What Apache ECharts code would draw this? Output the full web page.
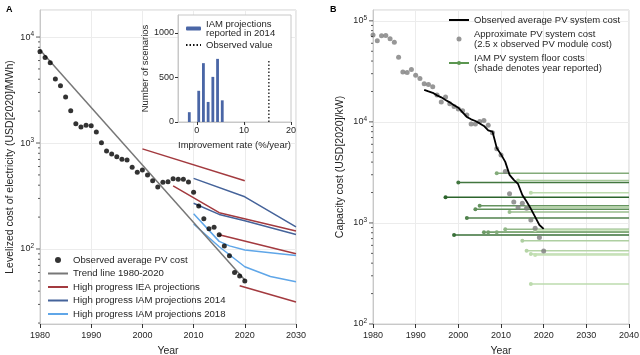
<!DOCTYPE html>
<html><head><meta charset="utf-8">
<script src="https://cdn.jsdelivr.net/npm/echarts@6/dist/echarts.min.js"></script>
<style>html,body{margin:0;padding:0;background:#fff}#c{width:640px;height:355px}</style>
</head><body><div id="c"></div>
<script>
// ---------- Panel A data ----------
const obsYearsA = [1980,1981,1982,1983,1984,1985,1986,1987,1988,1989,1990,1991,1992,1993,1994,1995,1996,1997,1998,1999,2000,2001,2002,2003,2004,2005,2006,2007,2008,2009,2010,2011,2012,2013,2014,2015,2016,2017,2018,2019,2020];
const obsLcoe = [7300,6430,5730,4020,3480,2720,2020,1520,1416,1468,1456,1270,1006,841,788,743,702,692,590,530,556,499,441,385,426,432,461,455,455,428,343,255,193,155,160,136,107,86.5,60,55.6,49.9];
const trendYears = [1980,2020];
const trendValues = [7540,51];
const ieaProj = [
  {years:[2000,2020], values:[880,440]},
  {years:[2006,2015,2030], values:[395,220,148]},
  {years:[2015,2030], values:[136,90]},
  {years:[2019,2030], values:[45,31.6]}
];
const iam2014Proj = [
  {years:[2010,2020,2030], values:[464,311,162]},
  {years:[2010,2015,2020,2030], values:[270,212,185,137]}
];
const iam2018Proj = [
  {years:[2010,2015,2017,2020,2030], values:[215,118,107,98,87]},
  {years:[2010,2015,2020,2025,2030], values:[172,105,68,55,49]}
];
// inset histogram
const histCenters = [-1.6,0.4,1.4,2.4,3.4,4.4,5.4];
const histCounts = [110,350,660,225,506,708,243];
const histTicksX = [0,10,20];
const histTicksY = [0,500,1000];
const observedRate = 15.3;
const observedLineTop = 700;

// ---------- Panel B data ----------
const approxYears = [1980,1981,1982,1983,1984,1985,1986,1987,1988,1989,1990,1991,1992,1993,1994,1995,1996,1997,1998,1999,2000,2001,2002,2003,2004,2005,2006,2007,2008,2009,2010,2011,2012,2013,2014,2015,2016,2017,2018,2019,2020];
const approxCost = [72600,63400,71000,71600,66400,61500,43600,31200,30800,33000,29000,26800,23900,23400,22300,18500,15700,17600,15100,14200,13400,12900,11700,9550,9550,10100,10300,9270,7800,5410,4700,3220,1940,1610,1420,1570,1400,1070,885,716,528];
const sysYears = [1992,1993,1994,1995,1996,1997,1998,1999,2000,2001,2002,2003,2004,2005,2006,2007,2008,2009,2010,2011,2012,2013,2014,2015,2016,2017,2018,2019,2020];
const sysCost = [20700,20000,19400,18300,17500,16500,15600,14600,13800,12400,11200,10600,10200,9660,9120,8240,8020,5530,4770,4020,2990,2670,2430,1890,1630,1380,1150,955,873];
const floorYears = [1997,1999,2000,2002,2004,2005,2006,2007,2009,2009,2011,2012,2014,2015,2016,2016,2017,2017,2017,2018,2018];
const floorCost  = [1795,760,2510,1120,1370,1480,809,809,810,3100,867,1280,2630,668,1430,532,1995,493,249,482,850];
const floorEndYear = 2040;

// ---------- styling helpers ----------
const FONT = 'Liberation Sans, Arial, sans-serif';
const TXT = '#262626';
const C_TREND = '#777777', C_IEA = '#a33a3f', C_I14 = '#45639a', C_I18 = '#5fa6e8';
function greenFor(y){
  const t = Math.max(0, Math.min(1, (y-1997)/(2018-1997)));
  const a=[44,100,44], b=[196,225,180];
  const c=a.map((v,i)=>Math.round(v+(b[i]-v)*t));
  return 'rgb('+c.join(',')+')';
}
function logLabel(v){
  const l = Math.log10(v), e = Math.round(l);
  if (Math.abs(l-e) > 1e-6) return '';
  return '{b|10}{s|' + e + '}';
}
const plain = v => String(v);
const logRich = {b:{fontSize:9,color:TXT,fontFamily:FONT}, s:{fontSize:6.5,color:TXT,fontFamily:FONT,verticalAlign:'bottom',padding:[0,0,6,0]}};
function tickValues(min,max){
  const out=[];
  for(let e=Math.floor(Math.log10(min)); e<=Math.ceil(Math.log10(max)); e++){
    for(let m=1;m<10;m++){ const v=m*Math.pow(10,e); if(v>=min&&v<=max) out.push([m===1?1:0, v]); }
  }
  return out;
}
function tickSeries(xi, yi, xMin, min, max){
  return {
    type:'custom', xAxisIndex:xi, yAxisIndex:yi, clip:false, silent:true, z:6,
    data: tickValues(min,max).map(t=>[xMin, t[1], t[0]]),
    renderItem:(params, api)=>{
      const p = api.coord([api.value(0), api.value(1)]);
      const len = api.value(2) ? 4 : 2;
      return {type:'line', shape:{x1:p[0]-len, y1:p[1], x2:p[0], y2:p[1]}, style:{stroke:'#333', lineWidth:0.8}};
    }
  };
}
const zip = (xs, ys) => xs.map((x,i)=>[x, ys[i]]);

const A_MIN=19.6, A_MAX=18000, B_MIN=100, B_MAX=128000;

const series = [];
ieaProj.forEach(p=>series.push({name:'High progress IEA projections', type:'line', xAxisIndex:0, yAxisIndex:0, symbol:'none', data:zip(p.years,p.values), lineStyle:{color:C_IEA,width:1.5}, itemStyle:{color:C_IEA}}));
iam2014Proj.forEach(p=>series.push({name:'High progress IAM projections 2014', type:'line', xAxisIndex:0, yAxisIndex:0, symbol:'none', data:zip(p.years,p.values), lineStyle:{color:C_I14,width:1.5}, itemStyle:{color:C_I14}}));
iam2018Proj.forEach(p=>series.push({name:'High progress IAM projections 2018', type:'line', xAxisIndex:0, yAxisIndex:0, symbol:'none', data:zip(p.years,p.values), lineStyle:{color:C_I18,width:1.5}, itemStyle:{color:C_I18}}));
series.push({name:'Trend line 1980-2020', type:'line', xAxisIndex:0, yAxisIndex:0, symbol:'none', data:zip(trendYears,trendValues), lineStyle:{color:C_TREND,width:1.5}, itemStyle:{color:C_TREND}});
series.push({name:'Observed average PV cost', type:'scatter', xAxisIndex:0, yAxisIndex:0, symbolSize:5, data:zip(obsYearsA,obsLcoe), itemStyle:{color:'#000'}, z:4});
series.push(tickSeries(0,0,1980,A_MIN,A_MAX));
// Inset
series.push({name:'IAM projections\nreported in 2014', type:'bar', xAxisIndex:2, yAxisIndex:2, barWidth:2.8, data:zip(histCenters,histCounts), itemStyle:{color:'#4a66a6'}, z:5});
series.push({name:'Observed value', type:'line', xAxisIndex:2, yAxisIndex:2, symbol:'none', data:[[observedRate,0],[observedRate,observedLineTop]], lineStyle:{color:'#111',width:1.3,type:[1.5,2]}, itemStyle:{color:'#111'}, z:5});
// Panel B
floorYears.forEach((y,i)=>series.push({name:'IAM PV system floor costs\n(shade denotes year reported)', type:'line', xAxisIndex:1, yAxisIndex:1,
  symbol:'circle', symbolSize:4, showSymbol:true,
  data:[{value:[y,floorCost[i]]},{value:[floorEndYear,floorCost[i]], symbol:'none'}],
  lineStyle:{color:greenFor(y),width:1.5}, itemStyle:{color:greenFor(y)}}));
series.push({name:'Approximate PV system cost\n(2.5 x observed PV module cost)', type:'scatter', xAxisIndex:1, yAxisIndex:1, symbolSize:5, data:zip(approxYears,approxCost), itemStyle:{color:'#7d7d7d'}, z:4});
series.push({name:'Observed average PV system cost', type:'line', xAxisIndex:1, yAxisIndex:1, symbol:'none', data:zip(sysYears,sysCost), lineStyle:{color:'#000',width:1.8}, itemStyle:{color:'#000'}, z:5});
series.push(tickSeries(1,1,1980,B_MIN,B_MAX));

const axisCommon = {
  axisLine:{show:true, onZero:false, lineStyle:{color:'#c8c8c8'}},
  axisTick:{show:true, length:4, lineStyle:{color:'#333'}},
  axisLabel:{fontSize:9, color:TXT, fontFamily:FONT, margin:7, formatter:plain},
  splitLine:{show:true, lineStyle:{color:'#ececec'}},
  nameTextStyle:{fontSize:10.5, color:TXT, fontFamily:FONT}
};
const noSym = {opacity:0};
const option = {
  animation:false,
  backgroundColor:'#fff',
  textStyle:{fontFamily:FONT},
  title:[
    {text:'A', left:1, top:0, textStyle:{fontSize:9, fontWeight:'bold', color:'#000', fontFamily:FONT}},
    {text:'B', left:325, top:0, textStyle:{fontSize:9, fontWeight:'bold', color:'#000', fontFamily:FONT}}
  ],
  grid:[
    {left:40, right:344, top:10, bottom:31, show:true, borderColor:'#d0d0d0', borderWidth:1, backgroundColor:'transparent', outerBoundsMode:'none', containLabel:false},
    {left:373, right:11, top:10, bottom:31, show:true, borderColor:'#d0d0d0', borderWidth:1, backgroundColor:'transparent', outerBoundsMode:'none', containLabel:false},
    {left:178, right:349, top:15, bottom:233, show:true, borderColor:'#c8c8c8', borderWidth:1, backgroundColor:'#fff', z:3, outerBoundsMode:'none', containLabel:false}
  ],
  xAxis:[
    Object.assign({}, axisCommon, {gridIndex:0, type:'value', min:1980, max:2030, interval:10, name:'Year', nameLocation:'middle', nameGap:22}),
    Object.assign({}, axisCommon, {gridIndex:1, type:'value', min:1980, max:2040, interval:10, name:'Year', nameLocation:'middle', nameGap:22}),
    Object.assign({}, axisCommon, {gridIndex:2, type:'value', min:-4, max:20, z:4, name:'Improvement rate (%/year)', nameLocation:'middle', nameGap:18,
      splitLine:{show:false}, axisLabel:{fontSize:9,color:TXT,fontFamily:FONT,margin:4, formatter:plain, customValues:histTicksX},
      axisTick:{show:true,length:3,lineStyle:{color:'#333'}, customValues:histTicksX},
      nameTextStyle:{fontSize:9.5,color:TXT,fontFamily:FONT}})
  ],
  yAxis:[
    Object.assign({}, axisCommon, {gridIndex:0, type:'log', logBase:10, min:A_MIN, max:A_MAX, name:'Levelized cost of electricity (USD[2020]/MWh)', nameLocation:'middle', nameGap:24,
      axisTick:{show:false}, axisLabel:{formatter:logLabel, rich:logRich, margin:6, showMinLabel:false, showMaxLabel:false}}),
    Object.assign({}, axisCommon, {gridIndex:1, type:'log', logBase:10, min:B_MIN, max:B_MAX, name:'Capacity cost (USD[2020]/kW)', nameLocation:'middle', nameGap:27,
      axisTick:{show:false}, axisLabel:{formatter:logLabel, rich:logRich, margin:6, showMaxLabel:false}}),
    Object.assign({}, axisCommon, {gridIndex:2, type:'value', min:0, max:1200, z:4, name:'Number of scenarios', nameLocation:'middle', nameGap:26,
      splitLine:{show:false}, axisLabel:{fontSize:9,color:TXT,fontFamily:FONT,margin:4, formatter:plain, customValues:histTicksY},
      axisTick:{show:true,length:3,lineStyle:{color:'#333'}, customValues:histTicksY},
      nameTextStyle:{fontSize:9.5,color:TXT,fontFamily:FONT}})
  ],
  legend:[
    {orient:'vertical', left:47, top:254, padding:0, itemWidth:20, itemHeight:6, itemGap:1.5,
     data:[{name:'Observed average PV cost'},{name:'Trend line 1980-2020', itemStyle:noSym},{name:'High progress IEA projections', itemStyle:noSym},{name:'High progress IAM projections 2014', itemStyle:noSym},{name:'High progress IAM projections 2018', itemStyle:noSym}],
     textStyle:{fontSize:9.6, color:TXT, fontFamily:FONT, lineHeight:12}},
    {orient:'vertical', left:448, top:15, padding:0, itemWidth:20, itemHeight:5, itemGap:4,
     data:[{name:'Observed average PV system cost', itemStyle:noSym},{name:'Approximate PV system cost\n(2.5 x observed PV module cost)'},
           {name:'IAM PV system floor costs\n(shade denotes year reported)', lineStyle:{color:'#5b9650'}, itemStyle:{color:'#5b9650'}}],
     textStyle:{fontSize:9.5, color:TXT, fontFamily:FONT, lineHeight:10}},
    {orient:'vertical', left:185, top:19, padding:0, itemWidth:15, itemHeight:4, itemGap:2, z:6,
     data:[{name:'IAM projections\nreported in 2014'},{name:'Observed value', itemStyle:noSym}],
     textStyle:{fontSize:9.5, color:TXT, fontFamily:FONT, lineHeight:9}}
  ],
  series: series
};
const chart = echarts.init(document.getElementById('c'), null, {renderer:'canvas'});
chart.setOption(option);
</script>
</body></html>
